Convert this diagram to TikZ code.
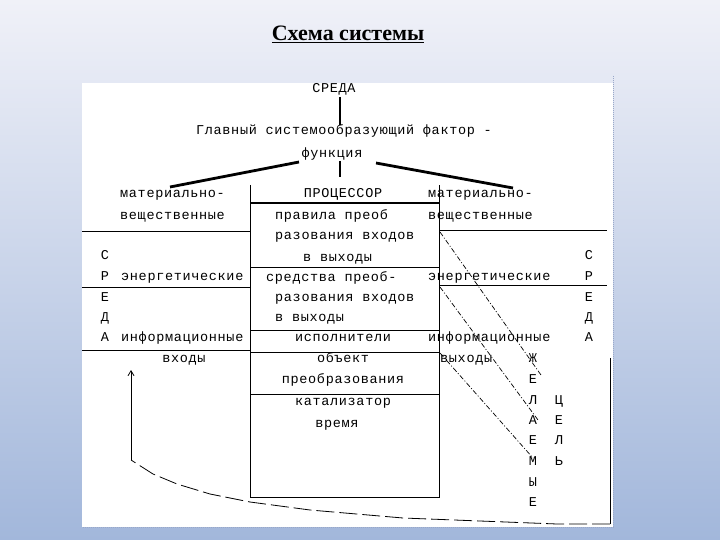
\documentclass[tikz,border=0pt]{standalone}
\usepackage{fontspec}
\setmainfont{Liberation Serif}
\newfontfamily\monof[LetterSpace=5]{Liberation Mono}
\usetikzlibrary{arrows.meta}
\definecolor{bgtop}{HTML}{F0F1F8}
\definecolor{bgbot}{HTML}{A2B7DB}
\definecolor{dotc}{HTML}{9AA8C8}
\begin{document}
\begin{tikzpicture}[x=1pt,y=-1pt,
  txt/.style={font=\monof\fontsize{13.5}{14}\selectfont, inner sep=0pt, anchor=base},
  txtl/.style={txt, anchor=base west},
  heavy/.style={line width=2.8pt},
  tbl/.style={line width=0.8pt},
  dd/.style={line width=0.7pt, dash pattern=on 5pt off 2pt on 1pt off 2pt, black},
  fb/.style={line width=0.8pt},
  fbd/.style={line width=0.8pt, dash pattern=on 18pt off 5pt},
  ]
\fill[top color=bgtop, bottom color=bgbot] (0,0) rectangle (720,540);
\useasboundingbox (0,0) rectangle (720,540);
\fill[white] (82,83) rectangle (613,527);
\draw[dotc, densely dotted, line width=1pt] (613,76) -- (613,527) -- (82,527);

% title
\node[font=\bfseries\fontsize{22}{24}\selectfont, inner sep=0pt, anchor=base] (title) at (348,41) {\underline{Схема системы}};

% top
\node[txt] (sreda) at (334,93) {СРЕДА};
\node[txt] (glav) at (344,135) {Главный системообразующий фактор -};
\node[txt] (func) at (332,158) {функция};
\coordinate (s1) at (340,97);
\coordinate (s2) at (340,125);
\draw[heavy] (s1) -- (s2);
\coordinate (f0) at (340,161);
\coordinate (f1) at (340,177);
\draw[heavy] (f0) -- (f1);
\coordinate (fl0) at (299,162);
\coordinate (fl1) at (170,187);
\draw[heavy] (fl0) -- (fl1);
\coordinate (fr0) at (376,163);
\coordinate (fr1) at (513,188);
\draw[heavy] (fr0) -- (fr1);

% processor box
\coordinate (b1) at (250,185);
\coordinate (b2) at (250,497);
\coordinate (b3) at (439,497);
\coordinate (b4) at (439,185);
\draw[tbl] (b1) -- (b2) -- (b3) -- (b4);
\draw[heavy] (250,203) -- (439,203);
\draw[tbl] (250,267) -- (439,267);
\draw[tbl] (250,330) -- (439,330);
\draw[tbl] (250,352) -- (439,352);
\draw[tbl] (250,394) -- (439,394);

\node[txt] (proc) at (343,197) {ПРОЦЕССОР};
\node[txtl] (p1) at (275,219) {правила преоб};
\node[txtl] (p2) at (275,240) {разования входов};
\node[txtl] (p3) at (303,261) {в выходы};
\node[txtl] (p4) at (266,281) {средства преоб-};
\node[txtl] (p5) at (275,301) {разования входов};
\node[txtl] (p6) at (275,321) {в выходы};
\node[txt] (p7) at (343,341) {исполнители};
\node[txt] (p8) at (343,362) {объект};
\node[txt] (p9) at (343,383) {преобразования};
\node[txt] (p10) at (343,405) {катализатор};
\node[txt] (p11) at (337,427) {время};

% left column
\draw[tbl] (82,231) -- (250,231);
\draw[tbl] (82,287) -- (250,287);
\draw[tbl] (82,350) -- (250,350);
\node[txtl] (l1) at (120,197) {материально-};
\node[txtl] (l2) at (120,219) {вещественные};
\node[txtl] (l3) at (121,280) {энергетические};
\node[txtl] (l4) at (121,341) {информационные};
\node[txt] (lin) at (184,362) {входы};
\node[txt] (lc) at (105,259) {С};
\node[txt] (lr) at (105,280) {Р};
\node[txt] (le) at (105,301) {Е};
\node[txt] (ld) at (105,321) {Д};
\node[txt] (la) at (105,341) {А};

% right column
\draw[tbl] (439,230) -- (607,230);
\draw[tbl] (439,285) -- (607,285);
\node[txtl] (r1) at (428,197) {материально-};
\node[txtl] (r2) at (428,219) {вещественные};
\node[txtl] (r3) at (428,280) {энергетические};
\node[txtl] (r4) at (428,341) {информационные};
\node[txtl] (rout) at (440,362) {выходы};
\node[txt] (rc) at (589,259) {С};
\node[txt] (rr) at (589,280) {Р};
\node[txt] (re) at (589,301) {Е};
\node[txt] (rd) at (589,321) {Д};
\node[txt] (ra) at (589,341) {А};

% desired goals
\node[txt] (g1) at (533,362) {Ж};
\node[txt] (g2) at (533,383) {Е};
\node[txt] (g3) at (533,404) {Л};
\node[txt] (g4) at (533,424) {А};
\node[txt] (g5) at (533,444) {Е};
\node[txt] (g6) at (533,465) {М};
\node[txt] (g7) at (533,486) {Ы};
\node[txt] (g8) at (533,506) {Е};
\node[txt] (c1) at (559,404) {Ц};
\node[txt] (c2) at (559,424) {Е};
\node[txt] (c3) at (559,444) {Л};
\node[txt] (c4) at (559,465) {Ь};

% dash-dot links
\coordinate (da0) at (440,232);
\coordinate (da1) at (541,375);
\coordinate (db0) at (440,287);
\coordinate (db1) at (538,420);
\coordinate (dc0) at (440,353);
\coordinate (dc1) at (533,458);
\draw[dd] (da0) -- (da1);
\draw[dd] (db0) -- (db1);
\draw[dd] (dc0) -- (dc1);

% feedback
\coordinate (k0) at (610,358);
\coordinate (k1) at (610,524);
\coordinate (k2) at (131,460);
\coordinate (k3) at (131,370);
\draw[fb] (k0) -- (k1);
\draw[fbd] (k1) -- (557,524) -- (480,521) -- (403,518) -- (310,510) -- (250,502) -- (210,494) -- (177,484) -- (153,474) -- (k2);
\draw[fb, -{Straight Barb[length=5pt,width=6pt]}] (k2) -- (k3);
\end{tikzpicture}
\end{document}
